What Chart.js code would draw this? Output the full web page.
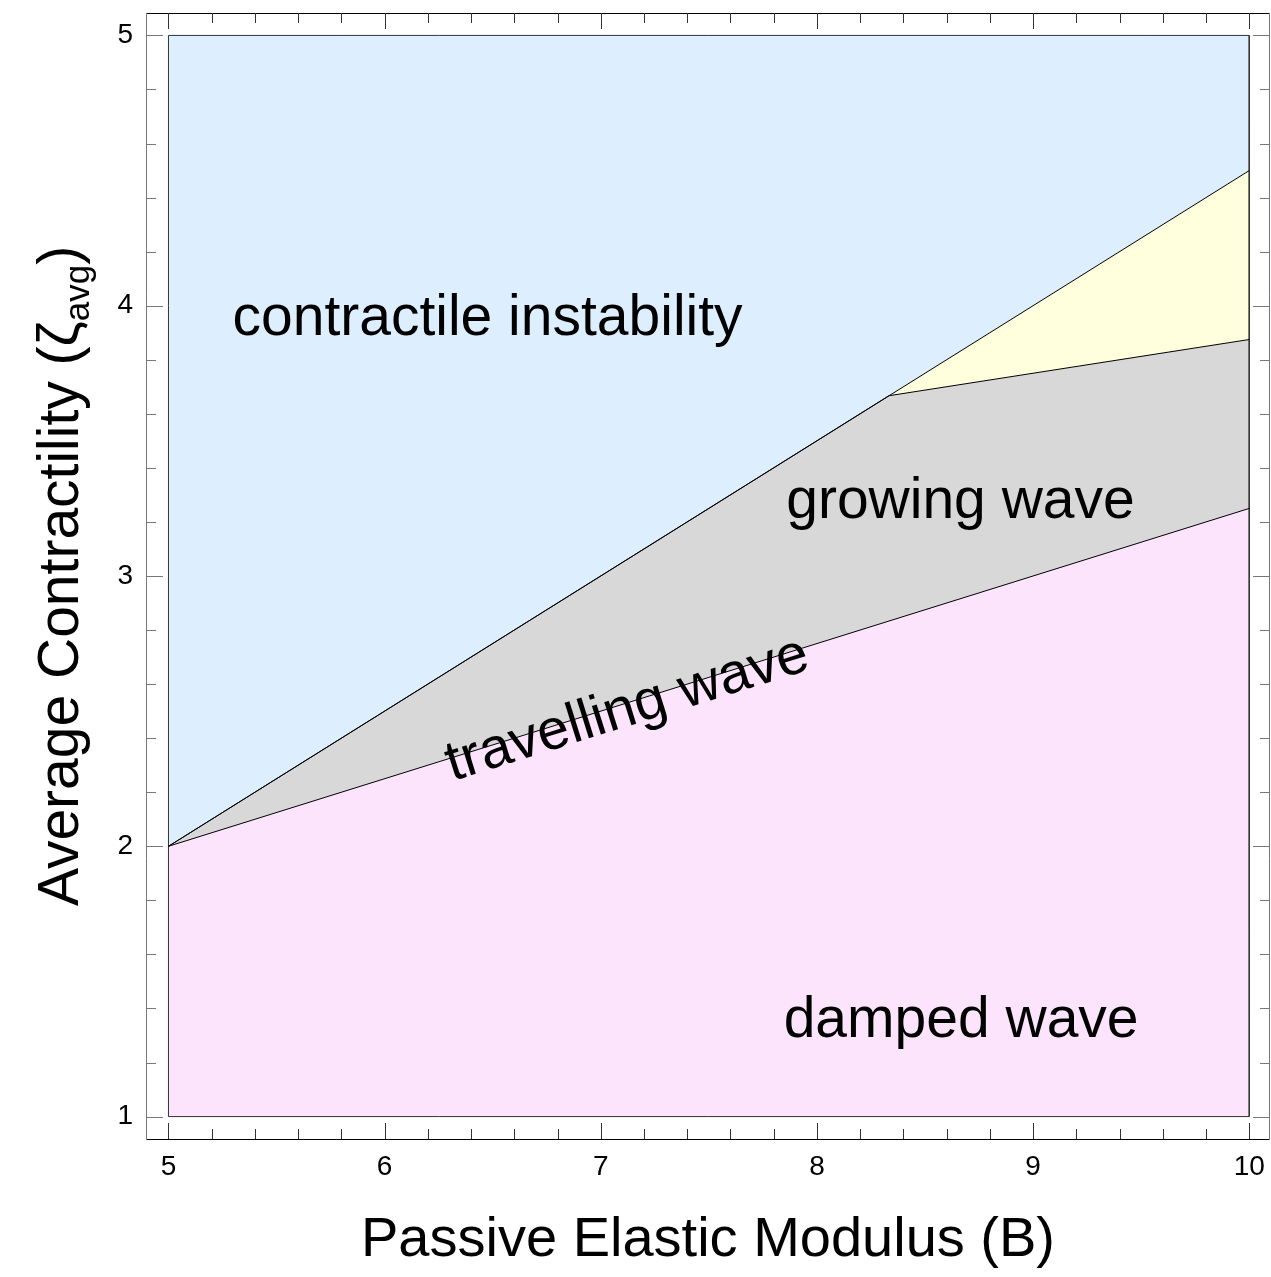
<!DOCTYPE html>
<html>
<head>
<meta charset="utf-8">
<script src="https://cdn.jsdelivr.net/npm/chart.js@4"></script>
<style>
  html, body { margin: 0; padding: 0; background: #fff; }
  #wrap { width: 1271px; height: 1277px; }
</style>
</head>
<body>
<div id="wrap"><canvas id="c"></canvas></div>
<script>
// phase boundaries (B, zeta_avg)
const topB = [5, 10];
const topZeta = [5, 5];
const instabB = [5, 10];
const instabZeta = [2, 4.5];
const growB = [5, 8.333, 10];
const growZeta = [2, 3.667, 3.875];
const dampB = [5, 10];
const dampZeta = [2, 3.25];
const boxB = [5, 5, 10, 10, 5];
const boxZeta = [1, 5, 5, 1, 1];

const xTicks = [5, 6, 7, 8, 9, 10];
const yTicks = [1, 2, 3, 4, 5];

const regionLabels = ['contractile instability', 'growing wave', 'travelling wave', 'damped wave'];
const labelB = [6.476, 8.664, 7.145, 8.667];
const labelZeta = [3.892, 3.215, 2.449, 1.295];
const labelTilt = [false, false, true, false];

const FONT = '"Liberation Sans", Arial, Helvetica, sans-serif';

const pts = (xs, ys) => xs.map((x, i) => ({ x, y: ys[i] }));

const noPad = (s) => {
  s.paddingTop = 0;
  s.paddingBottom = 0;
  s.paddingLeft = 0;
  s.paddingRight = 0;
};

const frameTicks = {
  id: 'frameTicks',
  afterDraw(chart) {
    const { ctx, chartArea: { left, right, top, bottom } } = chart;
    const xs = chart.scales.x, ys = chart.scales.y;
    ctx.save();
    ctx.lineWidth = 1;
    // x frame (bottom, top)
    ctx.strokeStyle = '#000';
    ctx.beginPath();
    ctx.moveTo(left, bottom + 0.5); ctx.lineTo(right, bottom + 0.5);
    ctx.moveTo(left, top + 0.5); ctx.lineTo(right, top + 0.5);
    ctx.stroke();
    ctx.strokeStyle = '#333';
    ctx.beginPath();
    for (let v = 5; v <= 10.0001; v += 0.2) {
      const major = Math.abs(v - Math.round(v)) < 1e-6;
      const len = major ? 16 : 10;
      const px = Math.round(xs.getPixelForValue(v)) + 0.5;
      ctx.moveTo(px, bottom); ctx.lineTo(px, bottom - len);
      ctx.moveTo(px, top); ctx.lineTo(px, top + len);
    }
    ctx.stroke();
    // y frame (left, right)
    ctx.strokeStyle = '#777';
    ctx.beginPath();
    ctx.moveTo(left + 0.5, top); ctx.lineTo(left + 0.5, bottom + 1);
    ctx.moveTo(right - 0.5, top); ctx.lineTo(right - 0.5, bottom + 1);
    for (let v = 1; v <= 5.0001; v += 0.2) {
      const major = Math.abs(v - Math.round(v)) < 1e-6;
      const len = major ? 17 : 10;
      const py = Math.round(ys.getPixelForValue(v)) + 0.5;
      ctx.moveTo(left, py); ctx.lineTo(left + len, py);
      ctx.moveTo(right, py); ctx.lineTo(right - len, py);
    }
    ctx.stroke();
    ctx.restore();
  },
};

const regionText = {
  id: 'regionText',
  afterDatasetsDraw(chart) {
    const { ctx } = chart;
    const xs = chart.scales.x, ys = chart.scales.y;
    const a = Math.atan2(
      ys.getPixelForValue(dampZeta[1]) - ys.getPixelForValue(dampZeta[0]),
      xs.getPixelForValue(dampB[1]) - xs.getPixelForValue(dampB[0])
    );
    ctx.save();
    ctx.fillStyle = '#000';
    ctx.font = '57px ' + FONT;
    ctx.textAlign = 'center';
    ctx.textBaseline = 'alphabetic';
    regionLabels.forEach((t, i) => {
      ctx.save();
      ctx.translate(xs.getPixelForValue(labelB[i]), ys.getPixelForValue(labelZeta[i]));
      if (labelTilt[i]) ctx.rotate(a);
      ctx.fillText(t, 0, 0);
      ctx.restore();
    });
    ctx.restore();
  },
};

const yTitle = {
  id: 'yTitle',
  afterDraw(chart) {
    const { ctx, chartArea: { top, bottom } } = chart;
    const main = '57px ' + FONT;
    const sub = '35px ' + FONT;
    const p1 = 'Average Contractility (\u03B6';
    const p2 = 'avg';
    const p3 = ')';
    ctx.save();
    ctx.font = main;
    const w1 = ctx.measureText(p1).width;
    const w3 = ctx.measureText(p3).width;
    ctx.font = sub;
    const w2 = ctx.measureText(p2).width;
    const total = w1 + w2 + w3;
    ctx.translate(78, (top + bottom) / 2);
    ctx.rotate(-Math.PI / 2);
    ctx.fillStyle = '#000';
    ctx.textAlign = 'left';
    ctx.textBaseline = 'alphabetic';
    let x = -total / 2;
    ctx.font = main;
    ctx.fillText(p1, x, 0);
    x += w1;
    ctx.font = sub;
    ctx.fillText(p2, x, 11);
    x += w2;
    ctx.font = main;
    ctx.fillText(p3, x, 0);
    ctx.restore();
  },
};

new Chart(document.getElementById('c'), {
  type: 'line',
  data: {
    datasets: [
      {
        data: pts(dampB, dampZeta),
        borderColor: '#000',
        borderWidth: 1,
        backgroundColor: 'rgb(253, 228, 253)',
        fill: { value: 1 },
      },
      {
        data: pts(growB, growZeta),
        borderColor: '#000',
        borderWidth: 1,
        backgroundColor: 'rgb(216, 216, 216)',
        fill: { value: 1 },
      },
      {
        data: pts(instabB, instabZeta),
        borderColor: '#000',
        borderWidth: 1,
        backgroundColor: 'rgb(255, 255, 221)',
        fill: { value: 1 },
      },
      {
        data: pts(topB, topZeta),
        borderColor: 'rgba(0,0,0,0)',
        backgroundColor: 'rgb(221, 238, 255)',
        fill: { value: 1 },
      },
      {
        data: pts(boxB, boxZeta),
        borderColor: '#333',
        borderWidth: 1,
        fill: false,
      },
    ],
  },
  options: {
    responsive: true,
    maintainAspectRatio: false,
    animation: false,
    events: [],
    elements: {
      point: { radius: 0 },
      line: { tension: 0 },
    },
    layout: { padding: { top: 13, right: 1, left: 0, bottom: 0 } },
    scales: {
      x: {
        type: 'linear',
        min: 4.896,
        max: 10.096,
        grid: { display: false, drawTicks: false },
        border: { display: false },
        afterBuildTicks: (s) => { s.ticks = xTicks.map((v) => ({ value: v })); },
        afterFit: (s) => { s.height = 138; noPad(s); },
        ticks: {
          color: '#000',
          padding: 11,
          maxRotation: 0,
          font: { family: FONT, size: 28 },
        },
        title: {
          display: true,
          text: 'Passive Elastic Modulus (B)',
          color: '#000',
          padding: { top: 0, bottom: 3 },
          font: { family: FONT, size: 56 },
        },
      },
      y: {
        type: 'linear',
        min: 0.917,
        max: 5.083,
        grid: { display: false, drawTicks: false },
        border: { display: false },
        afterBuildTicks: (s) => { s.ticks = yTicks.map((v) => ({ value: v })); },
        afterFit: (s) => { s.width = 146; noPad(s); },
        ticks: {
          color: '#000',
          padding: 13,
          font: { family: FONT, size: 28 },
        },
      },
    },
    plugins: {
      legend: { display: false },
      tooltip: { enabled: false },
      filler: { propagate: false, drawTime: 'beforeDatasetsDraw' },
    },
  },
  plugins: [frameTicks, regionText, yTitle],
});
</script>
</body>
</html>
